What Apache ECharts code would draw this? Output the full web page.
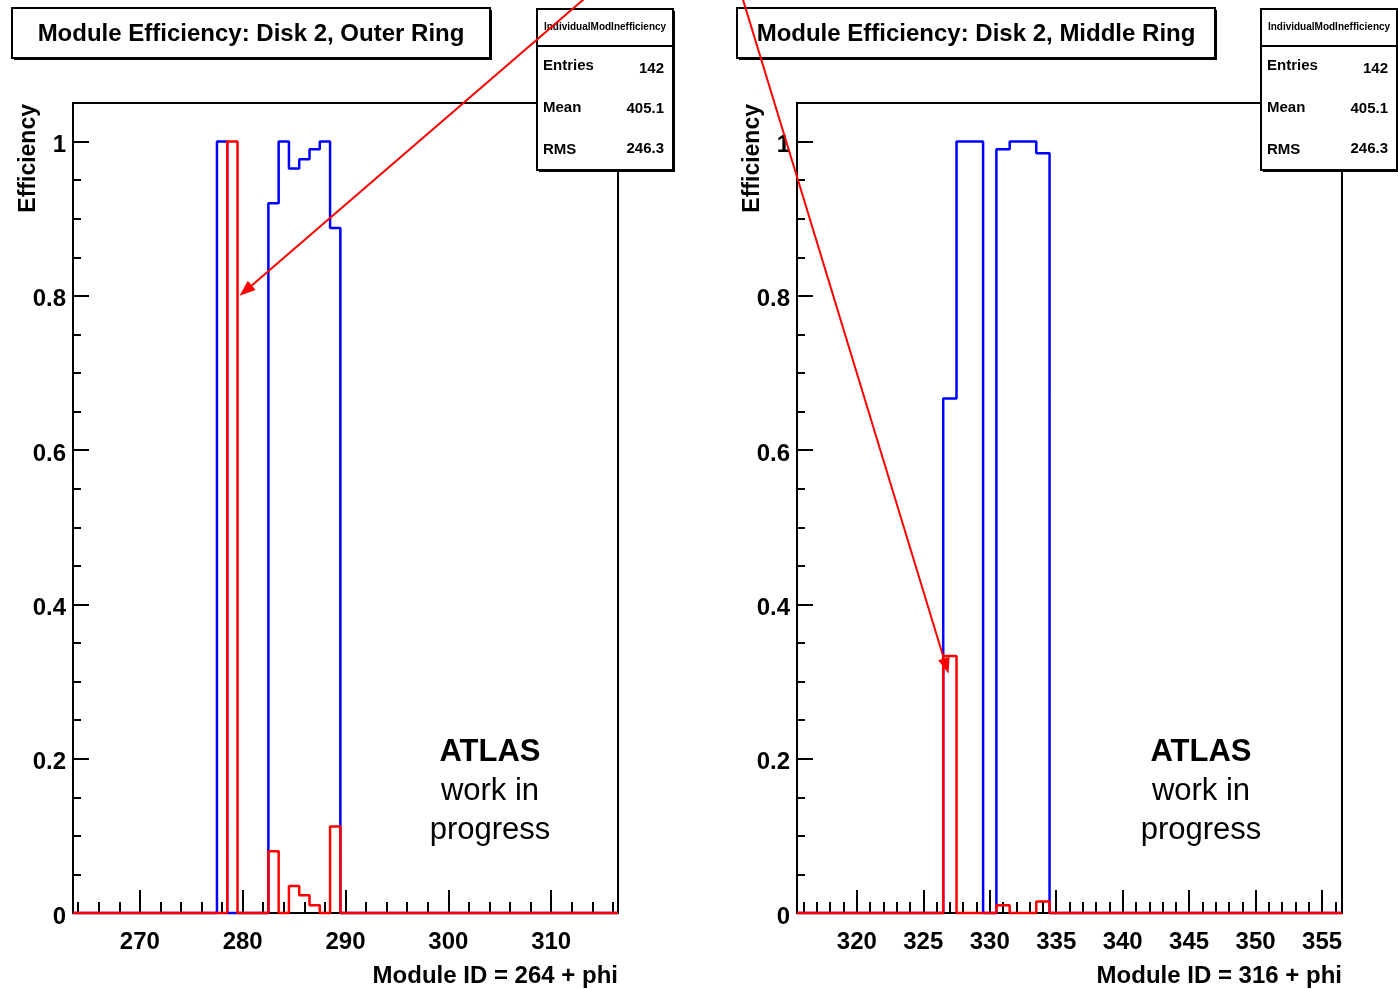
<!DOCTYPE html>
<html>
<head>
<meta charset="utf-8">
<script src="https://cdn.jsdelivr.net/npm/echarts@6/dist/echarts.min.js"></script>
<style>
  html, body { margin: 0; padding: 0; background: #fff; }
  #chart { width: 1398px; height: 989px; }
</style>
</head>
<body>
<div id="chart"></div>
<script>
// outer ring, module IDs 264..316 (one bin per module)
var outerFirstId = 264;
var outerEff = [0,0,0,0,0,0,0,0,0,0, 0,0,0,0,1,0,0,0,0,0.92, 1,0.965,0.977,0.99,1,0.888,0,0,0,0,
  0,0,0,0,0,0,0,0,0,0, 0,0,0,0,0,0,0,0,0,0, 0,0,0];
var outerIneff = [0,0,0,0,0,0,0,0,0,0, 0,0,0,0,0,1,0,0,0,0.08, 0,0.035,0.023,0.01,0,0.112,0,0,0,0,
  0,0,0,0,0,0,0,0,0,0, 0,0,0,0,0,0,0,0,0,0, 0,0,0];
var outerMajorTicks = [270, 280, 290, 300, 310];

// middle ring, module IDs 316..356
var middleFirstId = 316;
var middleEff = [0,0,0,0,0,0,0,0,0,0, 0,0.667,1,1,0,0.99,1,1,0.985,0,
  0,0,0,0,0,0,0,0,0,0, 0,0,0,0,0,0,0,0,0,0, 0];
var middleIneff = [0,0,0,0,0,0,0,0,0,0, 0,0.333,0,0,0,0.01,0,0,0.015,0,
  0,0,0,0,0,0,0,0,0,0, 0,0,0,0,0,0,0,0,0,0, 0];
var middleMajorTicks = [320, 325, 330, 335, 340, 345, 350, 355];

var yMajorTicks = [0, 0.2, 0.4, 0.6, 0.8, 1];

// stat box contents
var statNames = ['Entries', 'Mean', 'RMS'];
var statValues = ['142', '405.1', '246.3'];

// arrows: [fromX, fromY, toX, toY] in data units
var outerArrow = [313.3, 1.186, 279.7, 0.80];
var middleArrow = [311.4, 1.186, 326.9, 0.31];

var FONT = 'Liberation Sans';

function minorTicks(lo, hi, step, majors) {
  var out = [];
  for (var v = lo; v <= hi; v += step) {
    if (majors.indexOf(v) < 0) out.push(v);
  }
  return out;
}
var outerMinorTicks = minorTicks(264, 316, 2, outerMajorTicks);
var middleMinorTicks = minorTicks(316, 356, 1, middleMajorTicks);
var yMinorTicks = [];
for (var k = 1; k <= 20; k++) {
  if (k % 4 !== 0) yMinorTicks.push(+(k * 0.05).toFixed(2));
}

// histogram outline as step line through the bin low edges
function histData(firstId, vals) {
  var pts = vals.map(function(v, i) { return [firstId + i - 0.5, v]; });
  pts.push([firstId + vals.length - 0.5, vals[vals.length - 1]]);
  return pts;
}

function xAxes(grid, min, max, majors, minors) {
  return [{
    gridIndex: grid, type: 'value', min: min, max: max, position: 'bottom',
    axisLine: { show: false }, splitLine: { show: false },
    axisTick: { inside: true, length: 23, customValues: majors, lineStyle: { color: '#000', width: 2 } },
    axisLabel: { customValues: majors, margin: 17, color: '#000', fontSize: 24, fontWeight: 'bold', fontFamily: FONT }
  }, {
    gridIndex: grid, type: 'value', min: min, max: max, position: 'bottom',
    axisLine: { show: false }, splitLine: { show: false },
    axisTick: { inside: true, length: 11, customValues: minors, lineStyle: { color: '#000', width: 2 } },
    axisLabel: { show: false }
  }];
}
function yAxes(grid) {
  return [{
    gridIndex: grid, type: 'value', min: 0, max: 1.05, position: 'left',
    axisLine: { show: false }, splitLine: { show: false },
    axisTick: { inside: true, length: 16, customValues: yMajorTicks, lineStyle: { color: '#000', width: 2 } },
    axisLabel: { customValues: yMajorTicks, margin: 7, verticalAlign: 'top', lineHeight: 8, color: '#000', fontSize: 24, fontWeight: 'bold', fontFamily: FONT }
  }, {
    gridIndex: grid, type: 'value', min: 0, max: 1.05, position: 'left',
    axisLine: { show: false }, splitLine: { show: false },
    axisTick: { inside: true, length: 8, customValues: yMinorTicks, lineStyle: { color: '#000', width: 2 } },
    axisLabel: { show: false }
  }];
}

function histSeries(xi, data, color) {
  return {
    type: 'line', xAxisIndex: xi, yAxisIndex: xi, step: 'end', symbol: 'none',
    clip: false, silent: true, data: data,
    lineStyle: { color: color, width: 2.5 }
  };
}

function box(id, x, y, w, h) {
  return [
    { id: id + '_sh', type: 'rect', z: 100, shape: { x: x + 2, y: y + 2, width: w, height: h }, style: { fill: '#000' } },
    { id: id, type: 'rect', z: 101, shape: { x: x, y: y, width: w, height: h }, style: { fill: '#fff', stroke: '#000', lineWidth: 2 } }
  ];
}
function txt(id, x, y, text, size, weight, align, extra) {
  var el = { id: id, type: 'text', z: 102, x: x, y: y,
    style: { text: text, fill: '#000', font: weight + ' ' + size + 'px "' + FONT + '"', align: align, verticalAlign: 'middle' } };
  if (extra) Object.assign(el, extra);
  return el;
}

function panelGraphics(p, left, frameRight, titleText, titleX, statX, axisTitle, cx) {
  var g = [];
  g = g.concat(box(p + 'title', titleX, 8, 478, 50));
  g.push(txt(p + 'titleT', titleX + 239, 34, titleText, 24, 'bold', 'center'));
  g = g.concat(box(p + 'stat', statX, 9, 136, 161));
  g.push({ id: p + 'statSep', type: 'line', z: 102, shape: { x1: statX, y1: 46, x2: statX + 136, y2: 46 }, style: { stroke: '#000', lineWidth: 2 } });
  g.push(txt(p + 'statHead', statX + 68, 27, 'IndividualModInefficiency', 10, 'bold', 'center'));
  statNames.forEach(function(n, i) {
    g.push(txt(p + 'sn' + i, statX + 6, 66 + i * 42, n, 15, 'bold', 'left'));
    g.push(txt(p + 'sv' + i, statX + 127, 69 + i * 40, statValues[i], 15, 'bold', 'right'));
  });
  g.push(txt(p + 'ytitle', left - 44, 104, 'Efficiency', 23, 'bold', 'right', { rotation: Math.PI / 2 }));
  g.push(txt(p + 'xtitle', frameRight, 976, axisTitle, 24, 'bold', 'right'));
  g.push(txt(p + 'atlas', cx, 752, 'ATLAS', 31, 'bold', 'center'));
  g.push(txt(p + 'wip1', cx, 791, 'work in', 31, 'normal', 'center'));
  g.push(txt(p + 'wip2', cx, 830, 'progress', 31, 'normal', 'center'));
  return g;
}

var chart = echarts.init(document.getElementById('chart'), null, { renderer: 'canvas' });

var gridStyle = { show: true, borderColor: '#000', borderWidth: 2, backgroundColor: 'transparent' };
var option = {
  animation: false,
  backgroundColor: '#fff',
  grid: [
    Object.assign({ left: 73, top: 103, width: 545, height: 810 }, gridStyle),
    Object.assign({ left: 797, top: 103, width: 545, height: 810 }, gridStyle)
  ],
  xAxis: xAxes(0, 263.5, 316.5, outerMajorTicks, outerMinorTicks)
    .concat(xAxes(1, 315.5, 356.5, middleMajorTicks, middleMinorTicks)),
  yAxis: yAxes(0).concat(yAxes(1)),
  series: [
    histSeries(0, histData(outerFirstId, outerEff), '#0000ff'),
    histSeries(0, histData(outerFirstId, outerIneff), '#ff0000'),
    histSeries(2, histData(middleFirstId, middleEff), '#0000ff'),
    histSeries(2, histData(middleFirstId, middleIneff), '#ff0000')
  ],
  graphic: panelGraphics('L', 73, 618, 'Module Efficiency: Disk 2, Outer Ring', 12, 537, 'Module ID = 264 + phi', 490)
    .concat(panelGraphics('R', 797, 1342, 'Module Efficiency: Disk 2, Middle Ring', 737, 1261, 'Module ID = 316 + phi', 1201))
};
chart.setOption(option);

// red annotation arrows, placed from data coordinates
function arrow(id, axisIdx, a) {
  var p0 = chart.convertToPixel({ xAxisIndex: axisIdx, yAxisIndex: axisIdx }, [a[0], a[1]]);
  var p1 = chart.convertToPixel({ xAxisIndex: axisIdx, yAxisIndex: axisIdx }, [a[2], a[3]]);
  var dx = p1[0] - p0[0], dy = p1[1] - p0[1];
  var len = Math.sqrt(dx * dx + dy * dy);
  var ux = dx / len, uy = dy / len;
  var L = 16, W = 6;
  var bx = p1[0] - ux * L, by = p1[1] - uy * L;
  return [
    { id: id + '_l', type: 'line', z: 110, shape: { x1: p0[0], y1: p0[1], x2: bx, y2: by }, style: { stroke: '#ff0000', lineWidth: 2 } },
    { id: id + '_h', type: 'polygon', z: 110, shape: { points: [[p1[0], p1[1]], [bx - uy * W, by + ux * W], [bx + uy * W, by - ux * W]] }, style: { fill: '#ff0000' } }
  ];
}
chart.setOption({ graphic: arrow('arrL', 0, outerArrow).concat(arrow('arrR', 2, middleArrow)) });
</script>
</body>
</html>
